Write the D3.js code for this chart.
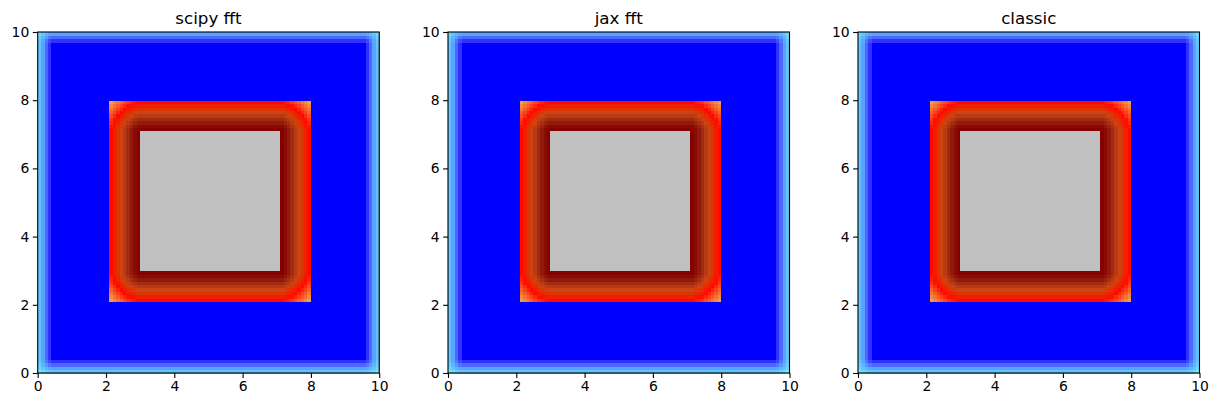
<!DOCTYPE html>
<html>
<head>
<meta charset="utf-8">
<script src="https://cdn.jsdelivr.net/npm/d3@7"></script>
<style>
  html, body { margin: 0; padding: 0; background: #fff; }
  svg { display: block; }
  text { font-family: "DejaVu Sans", sans-serif; fill: #000; }
</style>
</head>
<body>
<svg id="chart" width="1218" height="407"></svg>
<script>
// ---------- data ----------
const titles = ["scipy fft", "jax fft", "classic"];
const xTicks = [0, 2, 4, 6, 8, 10];
const yTicks = [0, 2, 4, 6, 8, 10];
const extent = [0, 10];
const gridN = 100;                         // cells per axis
// smoothed field profile, read by cell distance from the frame edge
const outerProfile = [0.5, 0.7, 0.85, 0.95];
// smoothed field profile, read by cell distance from the square's edge
const innerProfile = [0.5, 0.57, 0.64, 0.71, 0.78, 0.85, 0.91, 0.96, 1.0];
const squareCells = [21, 79];              // first/last cell index of the square
const holeCells = [30, 70];                // first/last cell index of the masked centre
const topShift = 1;                        // top row starts one layer in
const outerStops = [0.25, 0.5, 0.7, 0.85, 0.95, 1.0];
const outerColors = ["#78e8ff", "#62c4ff", "#5aa2ff", "#4a68ff", "#3030ff", "#0000ff"];
const innerStops = [0.25, 0.5, 0.57, 0.64, 0.71, 0.78, 0.85, 0.91, 0.96, 1.0];
const innerColors = ["#f0a048", "#ff0800", "#f21e00", "#e03400", "#cc4414", "#b83a12", "#a22a10", "#921a0c", "#8a0a04", "#850000"];
const holeColor = "#c0c0c0";

// ---------- layout ----------
const panelLeft = [37.7, 448, 858];
const panelW = 341.5, panelH = 341;
const panelTop = 32;

const svg = d3.select("#chart");
const outerColor = d3.scaleLinear().domain(outerStops).range(outerColors).clamp(true);
const innerColor = d3.scaleLinear().domain(innerStops).range(innerColors).clamp(true);

const idx = d3.range(gridN);
const cells = [];
idx.forEach(k => idx.forEach(i => cells.push({ i, k })));

function cellColor(c) {
  const { i, k } = c;
  const inX = i >= squareCells[0] && i <= squareCells[1];
  const inY = k >= squareCells[0] && k <= squareCells[1];
  if (inX && inY) {
    if (i >= holeCells[0] && i <= holeCells[1] && k >= holeCells[0] && k <= holeCells[1]) return holeColor;
    const dx = Math.min(i - squareCells[0], squareCells[1] - i);
    const dy = Math.min(k - squareCells[0], squareCells[1] - k);
    const px = dx < innerProfile.length ? innerProfile[dx] : 1;
    const py = dy < innerProfile.length ? innerProfile[dy] : 1;
    return innerColor(px * py);
  }
  const dx = Math.min(i, gridN - 1 - i);
  const dy = Math.min(k, gridN - 1 - k + topShift);
  const px = dx < outerProfile.length ? outerProfile[dx] : 1;
  const py = dy < outerProfile.length ? outerProfile[dy] : 1;
  return outerColor(px * py);
}
cells.forEach(c => c.color = cellColor(c));

titles.forEach((title, p) => {
  const x = d3.scaleLinear().domain(extent).range([0, panelW]);
  const y = d3.scaleLinear().domain(extent).range([panelH, 0]);
  const cx = d3.scaleBand().domain(idx).range([0, panelW]);
  const cy = d3.scaleBand().domain(idx).range([panelH, 0]);

  const g = svg.append("g").attr("transform", `translate(${panelLeft[p]},${panelTop})`);

  g.append("g").attr("shape-rendering", "crispEdges")
    .selectAll("rect").data(cells).join("rect")
    .attr("x", d => cx(d.i))
    .attr("y", d => cy(d.k))
    .attr("width", cx.bandwidth() + 0.6)
    .attr("height", cy.bandwidth() + 0.6)
    .attr("fill", d => d.color);

  // frame
  g.append("rect").attr("x", 0).attr("y", 0).attr("width", panelW).attr("height", panelH)
    .attr("fill", "none").attr("stroke", "#000").attr("stroke-width", 1.1);

  const xAxis = d3.axisBottom(x).tickValues(xTicks).tickFormat(d3.format("d")).tickSize(4.9).tickPadding(3.5);
  const yAxis = d3.axisLeft(y).tickValues(yTicks).tickFormat(d3.format("d")).tickSize(4.9).tickPadding(3.5);

  const gx = g.append("g").attr("transform", `translate(0,${panelH})`).call(xAxis);
  const gy = g.append("g").call(yAxis);
  [gx, gy].forEach(a => {
    a.select(".domain").remove();
    a.selectAll(".tick line").attr("stroke", "#000").attr("stroke-width", 1.1);
    a.selectAll(".tick text").style("font-family", "DejaVu Sans").style("font-size", "13.9px").attr("fill", "#000");
  });

  g.append("text")
    .attr("x", panelW / 2).attr("y", -8.3)
    .attr("text-anchor", "middle")
    .style("font-size", "16.7px")
    .text(title);
});
</script>
</body>
</html>
